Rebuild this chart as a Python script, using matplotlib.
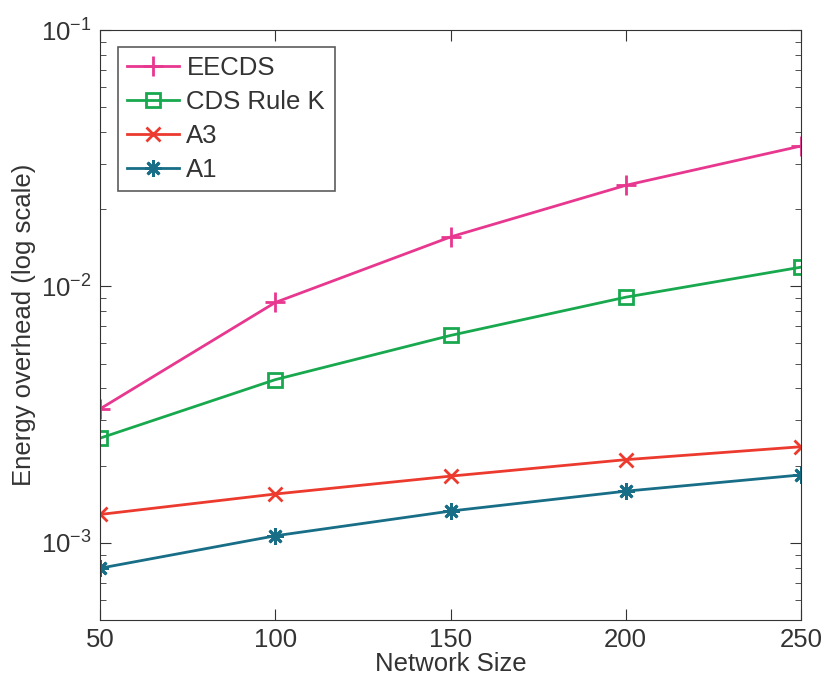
import matplotlib
matplotlib.use("Agg")
import matplotlib.pyplot as plt
from matplotlib.ticker import LogLocator, FixedLocator

plt.rcParams['font.family'] = ['Liberation Sans', 'DejaVu Sans']
plt.rcParams['mathtext.fontset'] = 'custom'
plt.rcParams['mathtext.rm'] = 'Liberation Sans'
plt.rcParams['mathtext.it'] = 'Liberation Sans:italic'
plt.rcParams['mathtext.bf'] = 'Liberation Sans:bold'
plt.rcParams['mathtext.default'] = 'regular'

sizes = [50, 100, 150, 200, 250]
eecds = [3.33e-3, 8.66e-3, 0.0156, 0.0248, 0.0353]
cds_rule_k = [2.56e-3, 4.33e-3, 6.44e-3, 9.08e-3, 0.01189]
a3 = [1.29e-3, 1.55e-3, 1.82e-3, 2.11e-3, 2.37e-3]
a1 = [7.96e-4, 1.065e-3, 1.33e-3, 1.59e-3, 1.84e-3]

text_c = '#333333'
fs = 18.5
fig = plt.figure(figsize=(8.27, 6.84), dpi=100)
ax = fig.add_axes([0.121, 0.0936, 0.8475, 0.8624])

lw = 2.0
ax.plot(sizes, eecds, color='#e8378f', marker='+', ms=14, mew=2, lw=lw, label='EECDS')
ax.plot(sizes, cds_rule_k, color='#18a84e', marker='s', ms=10, mew=2, mfc='none', lw=lw, label='CDS Rule K')
ax.plot(sizes, a3, color='#ec3a2e', marker='x', ms=10, mew=2, lw=lw, label='A3')
ax.plot(sizes, a1, color='#176e86', marker=(8, 2, 0), ms=12, mew=2, lw=lw, label='A1')

ax.set_yscale('log')
ax.set_xlim(50, 250)
ax.set_ylim(5e-4, 1e-1)
ax.set_xticks(sizes)
ax.yaxis.set_major_locator(FixedLocator([1e-3, 1e-2, 1e-1]))
ax.yaxis.set_minor_locator(LogLocator(base=10, subs=range(2, 10)))
ax.yaxis.set_minor_formatter(plt.NullFormatter())
ax.tick_params(which='both', direction='in', top=True, right=True, colors=text_c, labelsize=fs)
ax.tick_params(which='major', length=8, pad=6)
ax.tick_params(which='minor', length=4.5)
for s in ax.spines.values():
    s.set_color('#333333')
ax.set_xlabel('Network Size', fontsize=fs, color=text_c, labelpad=0)
ax.set_ylabel('Energy overhead (log scale)', fontsize=fs, color=text_c, labelpad=4)

leg = ax.legend(loc='upper left', bbox_to_anchor=(0.025, 0.972), fontsize=fs, frameon=True,
                fancybox=False, edgecolor='#333333', handlelength=2.0, handletextpad=0.3,
                borderpad=0.38, labelspacing=0.38, borderaxespad=0)
leg.get_frame().set_linewidth(1.2)
for t in leg.get_texts():
    t.set_color(text_c)

fig.savefig('out.png', dpi=100)
